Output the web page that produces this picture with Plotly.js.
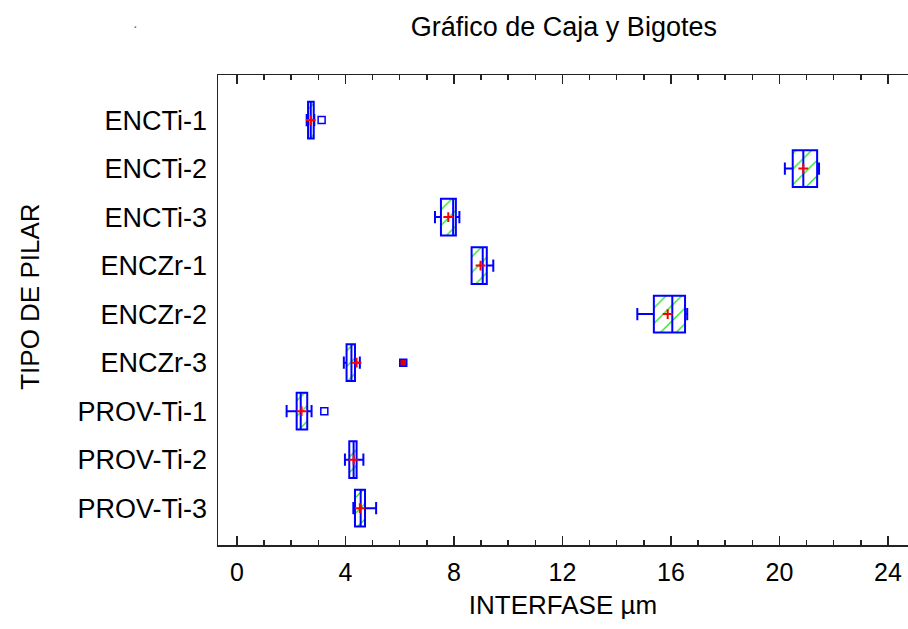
<!DOCTYPE html>
<html><head><meta charset="utf-8">
<script src="https://cdn.plot.ly/plotly-3.0.1.min.js"></script>
<style>html,body{margin:0;padding:0;background:#fff}</style>
</head><body>
<div id="chart" style="width:908px;height:629px"></div>
<script>
const categories = ["ENCTi-1","ENCTi-2","ENCTi-3","ENCZr-1","ENCZr-2","ENCZr-3","PROV-Ti-1","PROV-Ti-2","PROV-Ti-3"];
const minVals    = [2.57, 20.20, 7.30, 8.65, 14.76, 3.94, 1.83, 3.98, 4.29];
const q1Vals     = [2.62, 20.49, 7.52, 8.65, 15.37, 4.04, 2.20, 4.14, 4.35];
const medianVals = [2.72, 20.88, 7.97, 9.06, 16.05, 4.22, 2.35, 4.30, 4.56];
const q3Vals     = [2.83, 21.39, 8.07, 9.21, 16.52, 4.35, 2.59, 4.41, 4.72];
const maxVals    = [2.85, 21.46, 8.20, 9.45, 16.60, 4.53, 2.75, 4.66, 5.13];
const meanVals   = [2.72, 20.88, 7.79, 8.98, 15.88, 4.41, 2.38, 4.30, 4.53];
const outlierCats = ["ENCTi-1","PROV-Ti-1"];
const outlierVals = [3.12, 3.22];
const farOutCats  = ["ENCZr-3"];
const farOutVals  = [6.13];
const xTickVals = [0,4,8,12,16,20,24];

const blue = "#0000ff";
const traces = [
  {
    type: "bar", orientation: "h", y: categories,
    x: q3Vals.map((v,i)=>v-q1Vals[i]), base: q1Vals, width: 0.76,
    marker: {color: "rgba(255,255,255,0)", line: {width: 0},
      pattern: {shape: "/", fgcolor: "#22dd22", bgcolor: "rgba(255,255,255,0)", size: 11, solidity: 0.12}},
    hoverinfo: "skip", showlegend: false
  },
  {
    type: "box", orientation: "h", y: categories,
    q1: q1Vals, median: medianVals, q3: q3Vals,
    lowerfence: minVals, upperfence: maxVals,
    width: 0.76, whiskerwidth: 0.33, boxpoints: false,
    fillcolor: "rgba(0,0,0,0)", line: {color: blue, width: 2},
    showlegend: false
  },
  {
    type: "scatter", mode: "markers", y: categories, x: meanVals,
    marker: {symbol: "cross-thin", size: 7, line: {color: "#ff0000", width: 2}},
    showlegend: false
  },
  {
    type: "scatter", mode: "markers", y: outlierCats, x: outlierVals,
    marker: {symbol: "square-open", size: 7, color: blue, line: {color: blue, width: 1.5}},
    showlegend: false
  },
  {
    type: "scatter", mode: "markers", y: farOutCats, x: farOutVals,
    marker: {symbol: "square", size: 7, color: "#dd0000", line: {color: blue, width: 1.5}},
    showlegend: false
  }
];

const layout = {
  width: 908, height: 629,
  margin: {l: 218, r: 0, t: 75, b: 84},
  paper_bgcolor: "#fff", plot_bgcolor: "#fff",
  barmode: "overlay", boxmode: "overlay",
  font: {family: "Liberation Sans, Arial, sans-serif", color: "#000"},
  title: {text: "Gráfico de Caja y Bigotes", x: 0.621, xanchor: "center", y: 0.958, yanchor: "middle",
          font: {size: 27, color: "#000"}},
  xaxis: {
    range: [-0.70, 24.74], tickvals: xTickVals, ticktext: xTickVals.map(String),
    ticks: "inside", ticklen: 9, tickwidth: 1.5, tickcolor: "#222",
    minor: {dtick: 1, ticks: "inside", ticklen: 5, tickwidth: 1.5, tickcolor: "#222"},
    showline: true, linecolor: "#222", linewidth: 1.5, mirror: "ticks",
    showgrid: false, zeroline: false,
    tickfont: {size: 25}, ticklabelstandoff: 4,
    title: {text: "INTERFASE µm", font: {size: 26}, standoff: 11}
  },
  yaxis: {
    type: "category", categoryorder: "array", categoryarray: categories,
    range: [8.76, -0.93],
    showline: true, linecolor: "#222", linewidth: 1.5,
    ticks: "", showgrid: false, zeroline: false,
    tickfont: {size: 27}, ticklabelstandoff: 4
  },
  annotations: [
    {text: "TIPO DE PILAR", xref: "paper", yref: "paper", x: -0.2725, y: 0.528,
     xanchor: "center", yanchor: "middle", textangle: -90, showarrow: false,
     font: {size: 26, color: "#000"}},
    {text: "·", xref: "paper", yref: "paper", x: -0.126, y: 1.1255, showarrow: false,
     font: {size: 14, color: "#666"}}
  ]
};
Plotly.newPlot("chart", traces, layout, {displayModeBar: false, staticPlot: true});
</script>
</body></html>
